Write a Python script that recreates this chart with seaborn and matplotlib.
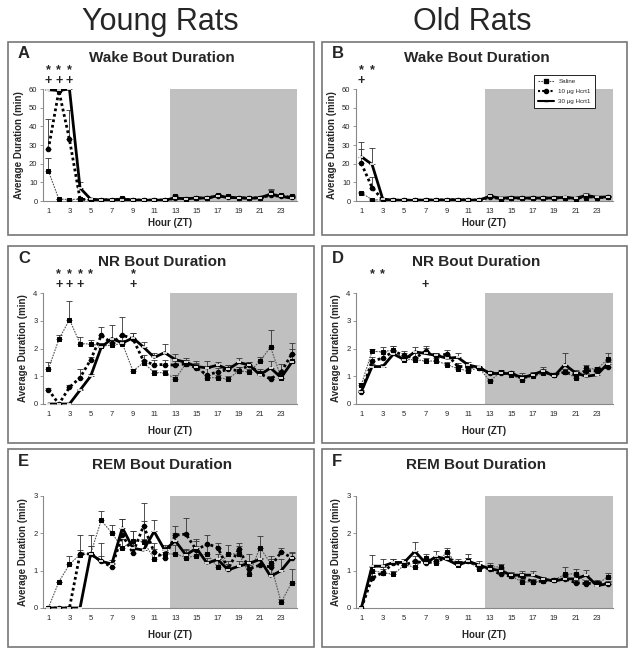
import numpy as np
import matplotlib
matplotlib.use("Agg")
import matplotlib.pyplot as plt
from matplotlib.patches import Rectangle
from matplotlib.lines import Line2D
import seaborn as sns

hours = list(range(1, 25))
xtick_labels = [1, 3, 5, 7, 9, 11, 13, 15, 17, 19, 21, 23]

# ---- Wake bout duration (min)
wake_young_sal = [16.2, 1.0, 0.8, 1.0, 0.5, 0.5, 0.8, 1.5, 0.6, 0.4, 0.5, 0.5, 2.5, 1.2, 1.5, 1.5, 3.0, 2.5, 1.5, 1.5, 1.5, 4.5, 3.0, 2.5]
wake_young_sal_err = [6.6, 0.3, 0.3, 0.4, 0.2, 0.2, 0.3, 0.6, 0.2, 0.2, 0.2, 0.2, 0.8, 0.4, 0.5, 0.5, 0.8, 0.8, 0.5, 0.5, 0.5, 2.0, 1.0, 0.8]
wake_young_10 = [27.6, 59.0, 33.0, 1.0, 0.6, 0.5, 0.8, 1.0, 0.6, 0.4, 0.5, 0.5, 1.5, 1.2, 1.6, 1.5, 2.8, 2.0, 1.8, 1.5, 1.8, 3.0, 2.5, 2.0]
wake_young_10_err = [16.2, 0.5, 15.8, 0.4, 0.2, 0.2, 0.3, 0.4, 0.2, 0.2, 0.2, 0.2, 0.5, 0.4, 0.5, 0.5, 0.8, 0.6, 0.5, 0.5, 0.5, 1.0, 0.8, 0.6]
wake_young_30 = [59.6, 59.2, 60.0, 7.0, 1.0, 0.6, 0.6, 0.8, 0.6, 0.4, 0.5, 0.5, 1.5, 1.2, 1.6, 1.6, 2.8, 1.8, 1.8, 1.4, 1.8, 3.5, 2.5, 1.5]
wake_young_30_err = [0.3, 0.5, 0.3, 3.0, 0.3, 0.2, 0.2, 0.3, 0.2, 0.2, 0.2, 0.2, 0.5, 0.4, 0.5, 0.5, 0.8, 0.6, 0.5, 0.5, 0.5, 2.5, 0.8, 0.5]

wake_old_sal = [4.3, 0.7, 0.5, 0.4, 0.4, 0.4, 0.5, 0.5, 0.6, 0.8, 0.5, 0.5, 2.5, 1.2, 1.8, 1.5, 1.4, 1.5, 1.5, 1.8, 1.2, 1.5, 1.8, 2.2]
wake_old_sal_err = [0.5, 0.2, 0.2, 0.2, 0.2, 0.2, 0.2, 0.2, 0.2, 0.3, 0.2, 0.2, 0.5, 0.3, 0.4, 0.4, 0.4, 0.4, 0.4, 0.4, 0.3, 0.5, 0.4, 0.5]
wake_old_10 = [20.1, 7.2, 0.6, 0.4, 0.4, 0.4, 0.5, 0.5, 0.6, 0.7, 0.5, 0.5, 2.0, 1.3, 1.6, 1.5, 1.5, 1.5, 1.6, 1.8, 1.3, 2.5, 1.8, 2.0]
wake_old_10_err = [7.6, 5.8, 0.2, 0.2, 0.2, 0.2, 0.2, 0.2, 0.2, 0.3, 0.2, 0.2, 0.5, 0.3, 0.4, 0.4, 0.4, 0.4, 0.4, 0.4, 0.3, 1.0, 0.4, 0.5]
wake_old_30 = [23.7, 19.6, 1.0, 0.5, 0.4, 0.4, 0.5, 0.5, 0.6, 0.7, 0.5, 0.5, 2.5, 1.5, 1.8, 1.6, 1.6, 1.6, 1.6, 2.0, 1.4, 3.0, 2.0, 2.2]
wake_old_30_err = [8.1, 8.6, 0.3, 0.2, 0.2, 0.2, 0.2, 0.2, 0.2, 0.3, 0.2, 0.2, 0.5, 0.3, 0.4, 0.4, 0.4, 0.4, 0.4, 0.4, 0.3, 1.5, 0.4, 0.5]

# ---- NR bout duration (min)
nr_young_sal = [1.25, 2.33, 3.04, 2.18, 2.16, 2.09, 2.12, 2.18, 1.19, 1.49, 1.13, 1.13, 0.91, 1.45, 1.35, 0.95, 0.95, 0.90, 1.20, 1.15, 1.55, 2.05, 0.95, 1.55]
nr_young_sal_err = [0.28, 0.15, 0.66, 0.24, 0.14, 0.10, 0.10, 0.12, 0.08, 0.10, 0.08, 0.08, 0.14, 0.12, 0.12, 0.10, 0.10, 0.10, 0.12, 0.10, 0.15, 0.60, 0.12, 0.45]
nr_young_10 = [0.52, 0.0, 0.60, 0.95, 1.59, 2.47, 2.20, 2.48, 2.35, 1.55, 1.42, 1.42, 1.40, 1.45, 1.30, 1.05, 1.15, 1.25, 1.20, 1.40, 1.10, 0.90, 1.15, 1.80]
nr_young_10_err = [0.05, 0.0, 0.08, 0.30, 0.12, 0.31, 0.10, 0.64, 0.20, 0.20, 0.15, 0.15, 0.15, 0.15, 0.15, 0.25, 0.15, 0.15, 0.12, 0.10, 0.15, 0.10, 0.30, 0.40]
nr_young_30 = [0.0, 0.0, 0.0, 0.50, 1.00, 2.04, 2.36, 2.20, 2.38, 2.05, 1.68, 1.85, 1.60, 1.50, 1.35, 1.30, 1.40, 1.25, 1.50, 1.40, 1.05, 1.30, 0.95, 1.50]
nr_young_30_err = [0.0, 0.0, 0.0, 0.05, 0.08, 0.15, 0.47, 0.25, 0.17, 0.20, 0.15, 0.30, 0.20, 0.15, 0.20, 0.25, 0.10, 0.15, 0.15, 0.12, 0.15, 0.25, 0.15, 0.30]

nr_old_sal = [0.70, 1.90, 1.88, 1.95, 1.60, 1.60, 1.55, 1.55, 1.42, 1.27, 1.20, 1.30, 0.83, 1.15, 1.05, 0.88, 1.00, 1.10, 1.05, 1.15, 0.95, 1.30, 1.25, 1.62]
nr_old_sal_err = [0.05, 0.10, 0.17, 0.15, 0.25, 0.10, 0.10, 0.10, 0.10, 0.08, 0.08, 0.05, 0.05, 0.08, 0.10, 0.12, 0.10, 0.10, 0.08, 0.10, 0.10, 0.12, 0.10, 0.23]
nr_old_10 = [0.42, 1.55, 1.65, 1.90, 1.75, 1.65, 1.90, 1.72, 1.80, 1.35, 1.35, 1.30, 1.10, 1.10, 1.10, 0.95, 1.05, 1.15, 1.05, 1.15, 1.05, 1.20, 1.20, 1.35]
nr_old_10_err = [0.05, 0.15, 0.25, 0.20, 0.15, 0.20, 0.20, 0.12, 0.15, 0.12, 0.10, 0.05, 0.10, 0.08, 0.10, 0.15, 0.10, 0.12, 0.08, 0.10, 0.15, 0.10, 0.10, 0.15]
nr_old_30 = [0.45, 1.35, 1.35, 1.80, 1.60, 1.88, 1.82, 1.75, 1.65, 1.68, 1.40, 1.32, 1.10, 1.10, 1.10, 0.95, 1.05, 1.20, 1.00, 1.42, 1.12, 1.00, 1.05, 1.45]
nr_old_30_err = [0.05, 0.10, 0.10, 0.15, 0.15, 0.17, 0.20, 0.10, 0.12, 0.17, 0.10, 0.05, 0.10, 0.08, 0.10, 0.10, 0.08, 0.12, 0.06, 0.43, 0.12, 0.10, 0.10, 0.15]

# ---- REM bout duration (min)
rem_young_sal = [0.0, 0.70, 1.17, 1.43, 1.45, 2.35, 2.01, 1.61, 1.80, 1.78, 1.32, 1.45, 1.45, 1.35, 1.40, 1.45, 1.10, 1.45, 1.45, 0.90, 1.62, 1.20, 0.15, 0.68]
rem_young_sal_err = [0.0, 0.0, 0.22, 0.52, 0.20, 0.25, 0.21, 0.25, 0.25, 0.55, 0.25, 0.15, 0.25, 0.20, 0.25, 0.25, 0.20, 0.23, 0.20, 0.25, 0.30, 0.20, 0.10, 0.37]
rem_young_10 = [0.0, 0.0, 0.0, 1.45, 1.45, 1.25, 1.10, 1.95, 1.48, 2.20, 1.50, 1.35, 1.95, 1.98, 1.55, 1.72, 1.62, 1.05, 1.58, 1.05, 1.15, 1.10, 1.50, 1.35]
rem_young_10_err = [0.0, 0.0, 0.0, 0.10, 0.50, 0.50, 0.10, 0.43, 0.57, 0.60, 0.25, 0.15, 0.25, 0.42, 0.30, 0.23, 0.13, 0.20, 0.15, 0.20, 0.20, 0.20, 0.10, 0.12]
rem_young_30 = [0.0, 0.0, 0.0, 0.0, 1.45, 1.25, 1.18, 2.15, 1.60, 1.55, 2.05, 1.55, 1.80, 1.42, 1.60, 1.20, 1.30, 1.02, 1.12, 1.20, 1.30, 0.85, 1.00, 1.35]
rem_young_30_err = [0.0, 0.0, 0.0, 0.0, 0.20, 0.15, 0.10, 0.23, 0.20, 0.30, 0.30, 0.15, 0.20, 0.15, 0.20, 0.15, 0.15, 0.15, 0.15, 0.25, 0.30, 0.30, 0.30, 0.15]

rem_old_sal = [0.0, 1.00, 0.95, 0.90, 1.15, 1.10, 1.35, 1.20, 1.50, 1.15, 1.25, 1.05, 1.10, 1.10, 0.85, 0.70, 0.70, 0.72, 0.75, 0.90, 0.92, 0.68, 0.65, 0.82]
rem_old_sal_err = [0.0, 0.10, 0.10, 0.10, 0.10, 0.10, 0.10, 0.10, 0.10, 0.08, 0.10, 0.10, 0.10, 0.08, 0.08, 0.08, 0.08, 0.06, 0.06, 0.20, 0.13, 0.06, 0.06, 0.13]
rem_old_10 = [0.0, 0.80, 0.95, 1.20, 1.15, 1.25, 1.20, 1.25, 1.35, 1.20, 1.25, 1.10, 1.05, 0.90, 0.85, 0.85, 0.70, 0.72, 0.75, 0.78, 0.68, 0.65, 0.68, 0.65]
rem_old_10_err = [0.0, 0.15, 0.15, 0.12, 0.12, 0.15, 0.10, 0.12, 0.12, 0.10, 0.10, 0.08, 0.10, 0.08, 0.08, 0.08, 0.06, 0.06, 0.06, 0.08, 0.06, 0.05, 0.06, 0.05]
rem_old_30 = [0.0, 1.12, 1.12, 1.22, 1.22, 1.52, 1.20, 1.38, 1.30, 1.15, 1.25, 1.15, 1.05, 1.00, 0.88, 0.88, 0.88, 0.78, 0.72, 0.78, 0.78, 0.88, 0.60, 0.65]
rem_old_30_err = [0.0, 0.30, 0.18, 0.10, 0.10, 0.26, 0.10, 0.14, 0.10, 0.10, 0.20, 0.10, 0.10, 0.08, 0.08, 0.10, 0.10, 0.06, 0.08, 0.10, 0.10, 0.15, 0.08, 0.08]

# significance marks: hours with * and +
stars_A, plus_A = [1, 2, 3], [1, 2, 3]
stars_B, plus_B = [1, 2], [1]
stars_C, plus_C = [2, 3, 4, 5, 9], [2, 3, 4, 9]
stars_D, plus_D = [2, 3], [7]

sns.set_theme(style="white")
plt.rcParams['font.family'] = ['Liberation Sans', 'DejaVu Sans']

W, H = 635, 651
fig = plt.figure(figsize=(W / 100, H / 100), dpi=100)


def fx(x):
    return x / W


def fy(y):
    return 1 - y / H


def panel(ax, sal, sal_err, d10, d10_err, d30, d30_err, ymax, ystep):
    ax.axvspan(12.5, 24.5, color='#c0c0c0', zorder=0, lw=0)
    zeros = [0] * 24
    for vals, err in [(sal, sal_err), (d10, d10_err), (d30, d30_err)]:
        ax.errorbar(hours, vals, yerr=[zeros, err], fmt='none', ecolor='#333333',
                    elinewidth=0.6, capsize=2, capthick=0.6, zorder=2)
    sns.lineplot(x=hours, y=sal, ax=ax, color='#555555', lw=0.8, linestyle=(0, (1.5, 1)),
                 marker='s', markersize=3.5, markerfacecolor='black', markeredgecolor='black', zorder=3)
    sns.lineplot(x=hours, y=d10, ax=ax, color='black', lw=2.0, linestyle=(0, (1, 1)),
                 marker='o', markersize=3.2, markeredgecolor='black', zorder=4)
    sns.lineplot(x=hours, y=d30, ax=ax, color='black', lw=2.0, linestyle='-',
                 marker='_', markersize=3, markeredgewidth=1.2, zorder=5)
    ax.set_xlim(0.5, 24.5)
    ax.set_ylim(0, ymax)
    ax.set_xticks(xtick_labels)
    ax.set_xticklabels([str(v) for v in xtick_labels], fontsize=5.5)
    ax.set_xticks(np.arange(0.5, 25, 1), minor=True)
    ax.set_yticks(np.arange(0, ymax + ystep / 2, ystep))
    ax.set_yticklabels([str(int(v)) for v in np.arange(0, ymax + ystep / 2, ystep)], fontsize=5.5)
    for s in ['top', 'right']:
        ax.spines[s].set_visible(False)
    for s in ['left', 'bottom']:
        ax.spines[s].set_color('#888888')
        ax.spines[s].set_linewidth(0.8)
    ax.tick_params(axis='x', which='major', length=0, pad=5)
    ax.tick_params(axis='x', which='minor', length=2, color='#888888', width=0.6, direction='out')
    ax.tick_params(axis='y', length=2, color='#888888', width=0.6, direction='out', pad=2, left=True)
    ax.set_xlabel('')
    ax.set_ylabel('Average Duration (min)', fontsize=7, fontweight='bold', labelpad=4)
    ax.patch.set_alpha(0)


def marks(ax, stars, plus):
    # one text per hour; star sits one line above the plus
    for h in sorted(set(stars) | set(plus)):
        if h in stars and h in plus:
            s, up = '*\n+', 3.5
        elif h in stars:
            s, up = '*', 11.5
        else:
            s, up = '+', 3.5
        ax.annotate(s, xy=(h, 1), xycoords=('data', 'axes fraction'),
                    xytext=(0, up), textcoords='offset points', ha='center',
                    va='baseline', fontsize=9, fontweight='bold', linespacing=0.9,
                    multialignment='center', annotation_clip=False)


cols = {'young': ((8, 314), (43, 297)), 'old': ((322, 627), (356, 613))}
rows = [((42, 235), (89, 201), 'Wake Bout Duration', 60, 10),
        ((246, 443), (293, 404), 'NR Bout Duration', 4, 1),
        ((449, 647), (496, 608), 'REM Bout Duration', 3, 1)]

data = {
    ('young', 0): (wake_young_sal, wake_young_sal_err, wake_young_10, wake_young_10_err, wake_young_30, wake_young_30_err),
    ('old', 0): (wake_old_sal, wake_old_sal_err, wake_old_10, wake_old_10_err, wake_old_30, wake_old_30_err),
    ('young', 1): (nr_young_sal, nr_young_sal_err, nr_young_10, nr_young_10_err, nr_young_30, nr_young_30_err),
    ('old', 1): (nr_old_sal, nr_old_sal_err, nr_old_10, nr_old_10_err, nr_old_30, nr_old_30_err),
    ('young', 2): (rem_young_sal, rem_young_sal_err, rem_young_10, rem_young_10_err, rem_young_30, rem_young_30_err),
    ('old', 2): (rem_old_sal, rem_old_sal_err, rem_old_10, rem_old_10_err, rem_old_30, rem_old_30_err),
}
letters = {('young', 0): 'A', ('old', 0): 'B', ('young', 1): 'C',
           ('old', 1): 'D', ('young', 2): 'E', ('old', 2): 'F'}
sig = {('young', 0): (stars_A, plus_A), ('old', 0): (stars_B, plus_B),
       ('young', 1): (stars_C, plus_C), ('old', 1): (stars_D, plus_D)}

axes = {}
for col, ((bx0, bx1), (ax0, ax1)) in cols.items():
    for r, ((by0, by1), (ay0, ay1), title, ymax, ystep) in enumerate(rows):
        fig.patches.append(Rectangle((fx(bx0), fy(by1)), fx(bx1 - bx0), (by1 - by0) / H,
                                     transform=fig.transFigure, fill=False,
                                     edgecolor='#777777', lw=1.2))
        ax = fig.add_axes([fx(ax0), fy(ay1), fx(ax1 - ax0), (ay1 - ay0) / H])
        panel(ax, *data[(col, r)], ymax, ystep)
        if (col, r) in sig:
            marks(ax, *sig[(col, r)])
        fig.text(fx(bx0 + 10), fy(by0 + 12), letters[(col, r)], fontsize=12,
                 fontweight='bold', ha='left', va='center')
        fig.text(fx((ax0 + ax1) / 2 - 8), fy(by0 + 16), title, fontsize=11,
                 fontweight='bold', ha='center', va='center')
        fig.text(fx((ax0 + ax1) / 2), fy(by1 - 12), 'Hour (ZT)', fontsize=7,
                 fontweight='bold', ha='center', va='center')
        axes[(col, r)] = ax

fig.text(fx(160), fy(22), 'Young Rats', fontsize=22, ha='center', va='center')
fig.text(fx(472), fy(22), 'Old Rats', fontsize=22, ha='center', va='center')

handles = [
    Line2D([], [], color='#555555', lw=0.8, linestyle=(0, (1.5, 1)), marker='s',
           markersize=3, markerfacecolor='black', markeredgecolor='black'),
    Line2D([], [], color='black', lw=1.5, linestyle=(0, (1, 1)), marker='o', markersize=3),
    Line2D([], [], color='black', lw=1.5, marker='_', markersize=3),
]
leg = axes[('old', 0)].legend(handles, ['Saline', '10 µg Hcrt1', '30 µg Hcrt1'],
                              loc='upper left', bbox_to_anchor=(fx(531), fy(72)),
                              bbox_transform=fig.transFigure, fontsize=4.5, frameon=True,
                              fancybox=False, edgecolor='black', framealpha=1,
                              handlelength=2.5, borderpad=0.6, labelspacing=0.75)
leg.get_frame().set_linewidth(0.6)

plt.savefig('out.png', dpi=100)
